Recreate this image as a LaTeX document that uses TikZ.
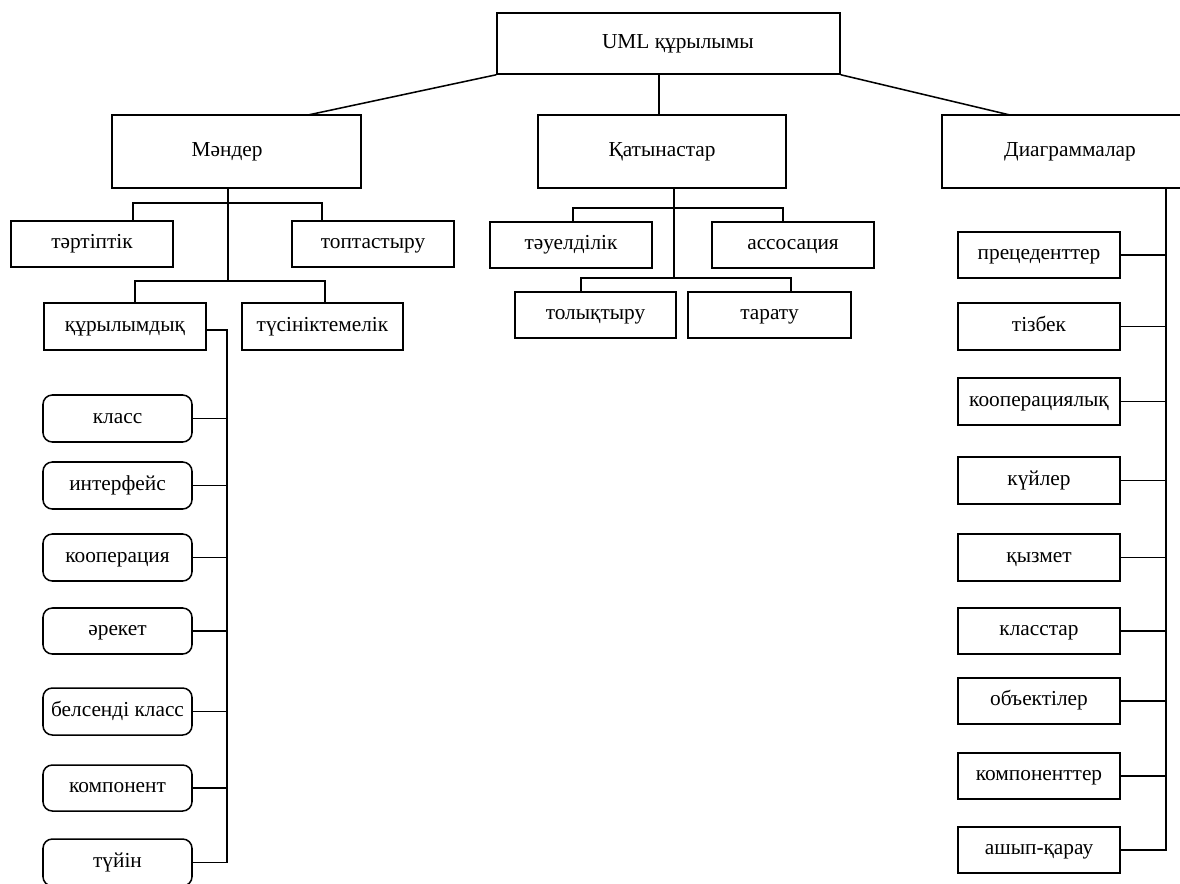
\documentclass[tikz,border=0pt]{standalone}
\usepackage{fontspec}
\setmainfont{Liberation Serif}
% \ubox{style}{name}{x1}{y1}{x2}{y2}{text}: a box given by its corners (in px)
\newcommand\ubox[7]{%
  \node[#1, minimum width={(#5-#3)*0.75pt}, minimum height={(#6-#4)*0.75pt}]
    (#2) at ({(#3+#5)/2},{(#4+#6)/2}) {#7};}
\begin{document}
\begin{tikzpicture}[x=0.75pt,y=-0.75pt,line width=1.15pt,line join=miter,
  bx/.style={draw, inner sep=0pt, text height=7.2pt, text depth=0pt,
    font=\fontsize{16}{19}\selectfont},
  rbx/.style={bx, rounded corners=7pt}]
\useasboundingbox (0,0) rectangle (1180,883);
\clip (0,0) rectangle (1180,883);
\fill[white] (0,0) rectangle (1180,883);

% top level and the three groups
\ubox{bx}{uml}{497}{13}{840}{74}{\hspace*{14pt}UML құрылымы}
\ubox{bx}{mand}{112}{115}{361}{188}{Мәндер\hspace*{14pt}}
\ubox{bx}{kat}{538}{115}{786}{188}{Қатынастар}
\ubox{bx}{diag}{942}{115}{1198}{188}{Диаграммалар}

% things
\ubox{bx}{tert}{11}{221}{173}{267}{тәртіптік}
\ubox{bx}{topt}{292}{221}{454}{267}{топтастыру}
\ubox{bx}{kur}{44}{303}{206}{350}{құрылымдық}
\ubox{bx}{tus}{242}{303}{403}{350}{түсініктемелік}

% structural things
\ubox{rbx}{klass}{43}{395}{192}{442}{класс}
\ubox{rbx}{inter}{43}{462}{192}{509}{интерфейс}
\ubox{rbx}{koop}{43}{534}{192}{581}{кооперация}
\ubox{rbx}{arek}{43}{608}{192}{654}{әрекет}
\ubox{rbx}{bels}{43}{688}{192}{735}{белсенді класс}
\ubox{rbx}{komp}{43}{765}{192}{811}{компонент}
\ubox{rbx}{tuyin}{43}{839}{192}{886}{түйін}

% relationships
\ubox{bx}{tau}{490}{222}{652}{268}{тәуелділік}
\ubox{bx}{ass}{712}{222}{874}{268}{ассосация}
\ubox{bx}{tol}{515}{292}{676}{338}{толықтыру}
\ubox{bx}{tar}{688}{292}{851}{338}{тарату}

% diagrams
\ubox{bx}{prec}{958}{232}{1120}{278}{прецеденттер}
\ubox{bx}{tizb}{958}{303}{1120}{350}{тізбек}
\ubox{bx}{kooplyk}{958}{378}{1120}{425}{кооперациялық}
\ubox{bx}{kuil}{958}{457}{1120}{504}{күйлер}
\ubox{bx}{kyzm}{958}{534}{1120}{581}{қызмет}
\ubox{bx}{klst}{958}{608}{1120}{654}{класстар}
\ubox{bx}{obj}{958}{678}{1120}{724}{объектілер}
\ubox{bx}{kompt}{958}{753}{1120}{799}{компоненттер}
\ubox{bx}{ashyp}{958}{827}{1120}{873}{ашып-қарау}

% links from the root
\coordinate (mtop) at (308,115);
\coordinate (ktop) at (659,115);
\coordinate (dtop) at (1010,115);
\draw (uml.south west) -- (mtop);
\draw (uml.south -| ktop) -- (ktop);
\draw (uml.south east) -- (dtop);

% things tree
\coordinate (mA) at (228,203);
\coordinate (mB) at (228,281);
\draw (mand.south -| mA) -- (mB);
\coordinate (tA) at (133,203);
\coordinate (tB) at (322,203);
\draw (tert.north -| tA) -- (tA) -- (tB) -- (topt.north -| tB);
\coordinate (kA) at (135,281);
\coordinate (kB) at (325,281);
\draw (kur.north -| kA) -- (kA) -- (kB) -- (tus.north -| kB);

% structural things bus
\coordinate (sb) at (227,330);
\draw (kur.east |- sb) -- (sb) -- (sb |- tuyin.east) -- (tuyin.east);
\foreach \n in {klass,inter,koop,arek,bels,komp}
  \draw (\n.east) -- (\n.east -| sb);

% relationships tree
\coordinate (qA) at (674,208);
\coordinate (qB) at (674,278);
\draw (kat.south -| qA) -- (qB);
\coordinate (q1) at (573,208);
\coordinate (q2) at (783,208);
\draw (tau.north -| q1) -- (q1) -- (q2) -- (ass.north -| q2);
\coordinate (q3) at (581,278);
\coordinate (q4) at (791,278);
\draw (tol.north -| q3) -- (q3) -- (q4) -- (tar.north -| q4);

% diagrams bus
\coordinate (db) at (1166,852);
\draw (diag.south -| db) -- (db |- ashyp.east) -- (ashyp.east);
\foreach \n in {prec,tizb,kooplyk,kuil,kyzm,klst,obj,kompt}
  \draw (\n.east) -- (\n.east -| db);
\end{tikzpicture}
\end{document}
